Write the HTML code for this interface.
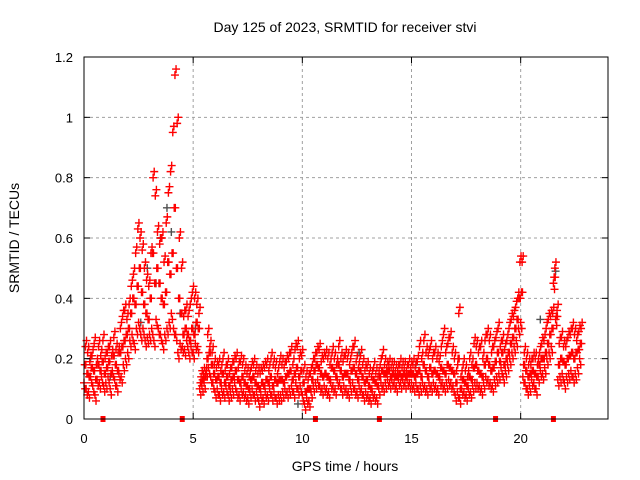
<!DOCTYPE html>
<html><head><meta charset="utf-8"><style>
body{margin:0;background:#fff;}
svg{display:block;font-family:"Liberation Sans",sans-serif;}
</style></head><body>
<svg id="chart" width="640" height="480" viewBox="0 0 640 480">
<rect width="640" height="480" fill="#fff"/>
<g id="grid"></g>
<g id="gray"></g>
<g id="red"></g>
<g id="marks"></g>
<rect x="84" y="57" width="524" height="362" fill="none" stroke="#000" stroke-width="1"/>
<g id="axes"></g>
<text x="345" y="32" text-anchor="middle" font-size="14">Day 125 of 2023, SRMTID for receiver stvi</text>
<text x="345" y="471" text-anchor="middle" font-size="14">GPS time / hours</text>
<text transform="translate(19,238) rotate(-90)" text-anchor="middle" font-size="14">SRMTID / TECUs</text>
</svg>
<script>
// values in 0.01 TECU, sampled every 0.1 h starting at 0 h
const stepHours = 0.1;
const seriesA = [12,10,9,14,11,8,13,12,14,11, 12,14,10,16,13,11,15,14,18,20, 22,26,28,25,30,32,28,30,26,27, 28,30,26,33,30,28,25,28,30,32, 35,30,28,22,25,24,23,26,22,24, 22,25,24,10,11,12,16,17,14,12, 9,10,8,10,9,11,8,9,10,12, 9,8,10,9,8,7,9,10,8,9, 6,8,7,9,8,10,8,9,7,8, 8,9,10,9,10,11,9,12,10,11, 8,5,7,6,9,11,12,13,11,10, 11,10,9,12,11,10,13,12,10,11, 10,9,11,12,10,9,11,10,8,9, 8,7,9,8,7,10,12,11,12,13, 12,13,12,11,13,12,13,12,13,12, 12,11,12,10,11,12,11,10,12,11, 12,11,10,13,12,11,12,13,12,11, 8,9,7,10,9,8,10,9,11,12, 12,11,10,12,14,13,12,11,13,14, 15,17,14,16,18,20,22,24,26,30, 32,14,12,10,11,13,12,10,14,16, 15,17,20,22,24,45,33,13,14,15, 12,14,15,16,14,15,17,20];
const seriesB = [18,15,14,17,16,13,18,16,19,15, 17,19,15,21,18,16,22,24,26,28, 30,35,40,38,44,50,42,38,35,33, 40,55,45,50,45,40,38,42,52,48, 55,70,50,40,35,28,30,28,26,30, 28,32,30,12,13,14,20,22,18,15, 13,14,12,15,12,14,11,13,14,16, 13,12,14,12,11,10,13,14,12,11, 10,12,11,13,12,14,11,13,12,13, 13,12,14,15,16,13,15,17,14,16, 12,9,10,10,13,16,18,17,15,14, 15,14,13,17,16,14,18,16,14,15, 15,13,16,17,15,13,16,14,12,13, 11,10,13,12,11,14,16,15,15,16, 14,15,14,14,15,14,15,14,15,15, 15,14,15,16,14,18,16,14,17,15, 16,15,14,17,16,15,18,17,16,15, 12,20,10,13,12,11,14,13,17,18, 16,15,14,18,20,18,16,17,19,22, 19,22,18,20,22,25,27,30,33,40, 42,18,16,14,15,16,15,14,18,20, 20,22,25,28,30,47,34,18,20,19, 18,20,21,22,20,22,23,25];
const seriesC = [24,22,19,21,25,18,24,21,26,20, 22,24,21,27,23,22,30,34,36,33, 38,44,48,55,63,60,56,50,46,44, 55,80,74,62,58,60,52,65,75,82, 95,114,98,60,50,34,36,34,38,42, 40,38,35,14,15,15,28,24,22,18, 17,18,16,20,16,18,15,17,19,20, 17,19,18,16,15,14,17,18,16,15, 15,16,17,18,16,20,18,17,15,19, 18,17,19,20,22,18,23,24,20,21, 16,14,13,15,18,20,22,23,19,20, 21,20,18,22,20,18,24,20,19,21, 20,18,22,24,19,17,21,18,16,17, 15,14,17,15,14,18,21,18,17,18, 17,17,16,16,18,17,17,16,18,17, 18,17,19,24,20,26,22,21,24,20, 22,20,19,24,28,22,25,27,22,20, 16,35,14,18,16,14,20,18,25,24, 22,24,20,26,28,26,22,24,27,30, 24,26,23,26,30,33,34,37,40,52, 52,22,20,18,18,20,20,18,22,25, 26,30,33,34,35,50,36,25,27,24, 24,27,28,30,28,26,29,30];
const grayTimes = [0.3,1.2,2.6,2.9,3.3,3.5,3.8,4.0,4.4,5.1,9.8,12.6,15.2,20.9,21.6];
const grayValues = [0.20,0.14,0.32,0.50,0.45,0.60,0.70,0.62,0.35,0.30,0.05,0.22,0.18,0.33,0.49];
const markerHours = [0.87,4.5,10.6,13.53,18.85,21.5];
const xTicks = [0,5,10,15,20];
const yTicks = [0,0.2,0.4,0.6,0.8,1,1.2];

const NS="http://www.w3.org/2000/svg";
const X0=84,X1=608,Y0=419,Y1=57;
function xs(h){return X0+(h/24)*(X1-X0);}
function ys(v){return Y0-(v/1.2)*(Y0-Y1);}
function mk(tag,attrs,parent){const e=document.createElementNS(NS,tag);for(const k in attrs)e.setAttribute(k,attrs[k]);parent.appendChild(e);return e;}
const grid=document.getElementById('grid'),axes=document.getElementById('axes');
xTicks.forEach(t=>{const x=xs(t);
 if(t>0){const g=mk('line',{x1:x,x2:x,y1:Y1,y2:Y0,stroke:'#a0a0a0','stroke-dasharray':'3,3'},grid);
 
 }
 const a=mk('line',{x1:x,x2:x,y1:Y0,y2:Y0-6,stroke:'#000'},axes);
 
 
 const b=mk('line',{x1:x,x2:x,y1:Y1,y2:Y1+6,stroke:'#000'},axes);
 
 
 const l=mk('text',{x:x,y:443,'text-anchor':'middle','font-size':'13'},axes);l.textContent=String(t);
 
 
});
yTicks.forEach(t=>{const y=ys(t);
 if(t>0&&t<1.2){const g=mk('line',{x1:X0,x2:X1,y1:y,y2:y,stroke:'#a0a0a0','stroke-dasharray':'3,3'},grid);
 
 }
 const a=mk('line',{x1:X0,x2:X0+6,y1:y,y2:y,stroke:'#000'},axes);
 
 
 const b=mk('line',{x1:X1,x2:X1-6,y1:y,y2:y,stroke:'#000'},axes);
 
 
 const l=mk('text',{x:73,y:y+5,'text-anchor':'end','font-size':'13'},axes);l.textContent=String(t);
 
 
});
function plus(parent,h,v,color,name){const x=xs(h),y=ys(v);
 const p=mk('path',{d:`M${x-4},${y}H${x+4}M${x},${y-4}V${y+4}`,stroke:color,'stroke-width':'1.4',fill:'none'},parent);
 
 }
const gray=document.getElementById('gray'),red=document.getElementById('red');
grayTimes.forEach((t,i)=>plus(gray,t,grayValues[i],'#505050','gray-point'));
[seriesA,seriesB,seriesC].forEach((s,k)=>{s.forEach((v,i)=>{
 plus(red,i*stepHours+k*0.033,v/100,'#ff0000','red-point');
 plus(red,i*stepHours+k*0.033+0.05,(v+(k-1)*2)/100,'#ff0000','red-point');
});});
const marks=document.getElementById('marks');
markerHours.forEach(h=>{const r=mk('rect',{x:xs(h)-2.5,y:Y0-3,width:5,height:6,fill:'#ff0000'},marks);
 
 });
</script>
</body></html>
